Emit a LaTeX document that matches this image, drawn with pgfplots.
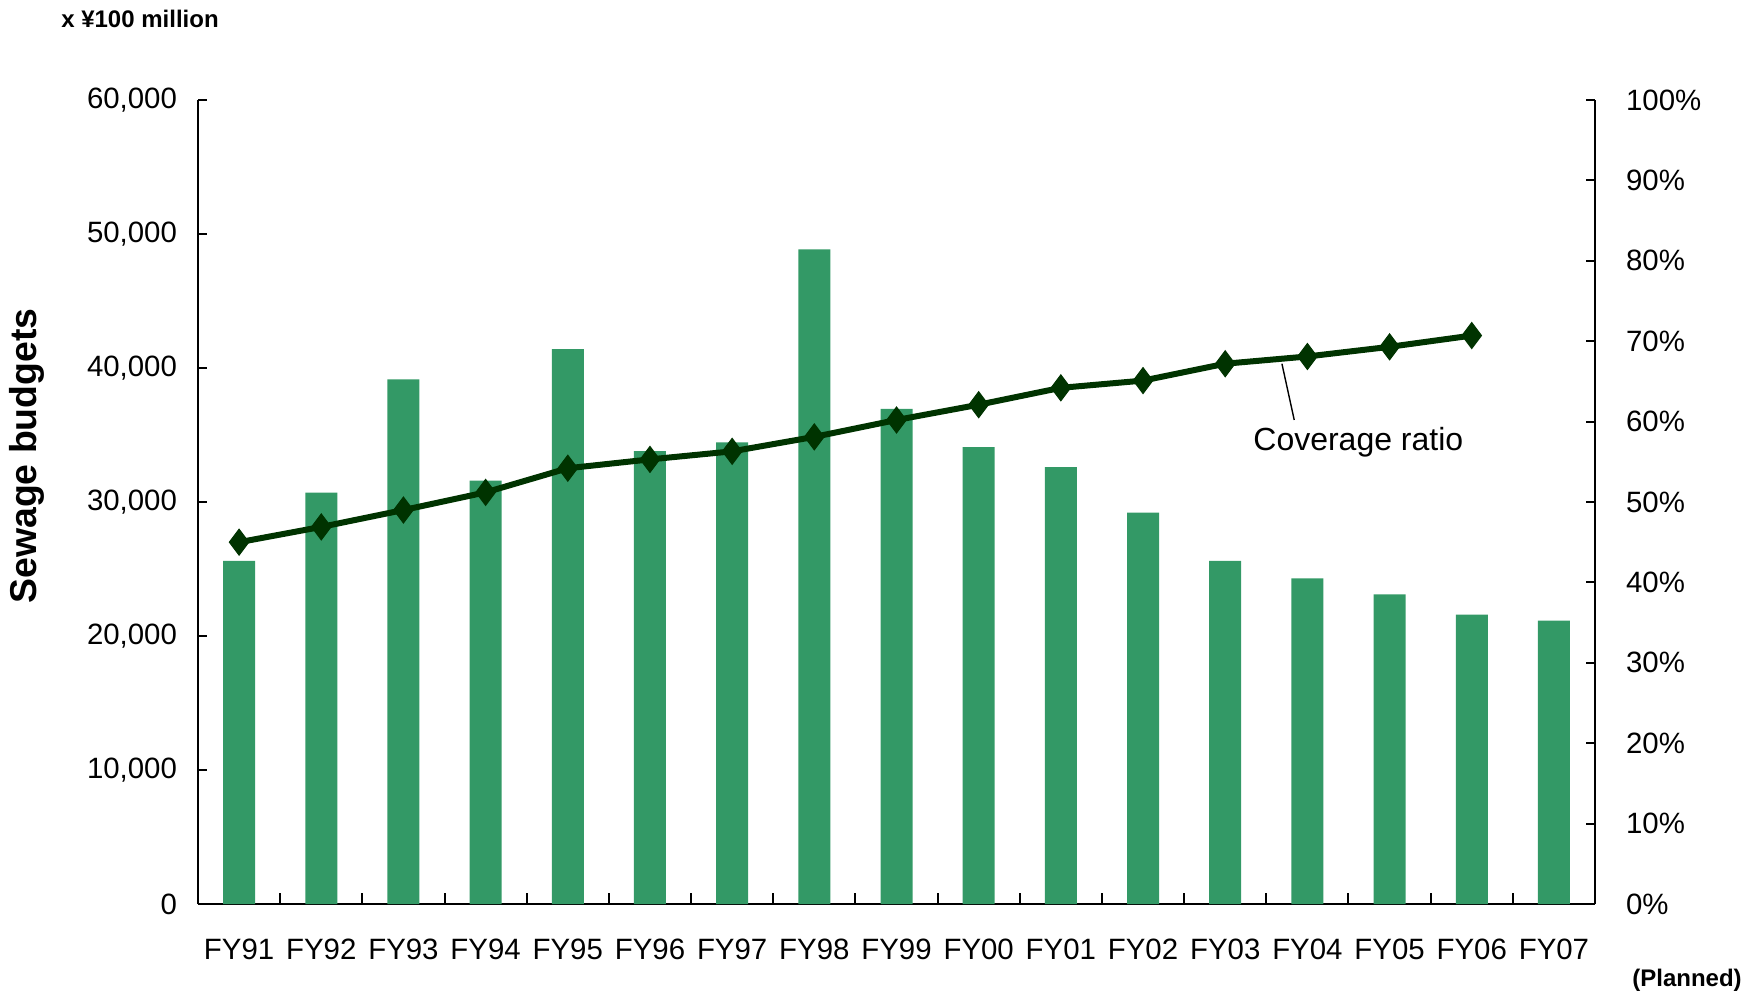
\documentclass[border=0pt]{standalone}
\usepackage{pgfplots}
\pgfplotsset{compat=1.18}
\usepackage{pgfplotstable}
\usepackage{fontspec}
\setmainfont{Liberation Sans}

\definecolor{barGreen}{HTML}{339966}
\definecolor{lineGreen}{HTML}{003300}

% Sewage budgets (x 100 million yen), FY91 .. FY07 (FY07 planned)
\pgfplotstableread{
idx budget
0  25600
1  30700
2  39150
3  31600
4  41400
5  33800
6  34450
7  48850
8  36950
9  34100
10 32600
11 29200
12 25600
13 24300
14 23100
15 21600
16 21150
}\budgets

% Sewerage coverage ratio (%), FY91 .. FY06
\pgfplotstableread{
idx ratio
0  45.0
1  46.9
2  49.0
3  51.2
4  54.2
5  55.3
6  56.3
7  58.1
8  60.2
9  62.1
10 64.2
11 65.1
12 67.2
13 68.1
14 69.3
15 70.7
}\coverage

\begin{document}
\begin{tikzpicture}[font=\fontsize{14.7}{17}\selectfont]
\useasboundingbox (-99pt,-44pt) rectangle (773pt,452pt);

\pgfplotsset{
  common/.style={
    scale only axis,
    width=698.5pt, height=402pt,
    at={(0,0)}, anchor=south west,
    xmin=-0.5, xmax=16.5,
    tick align=inside,
    major tick length=4.5pt,
    minor tick length=5.5pt,
    every tick/.style={black, line width=1pt},
    axis line style={black, line width=1pt},
    /pgf/number format/assume math mode=true,
    tick label style={font=\fontsize{14.7}{17}\selectfont},
  }
}

% Budgets: bars on the left axis
\begin{axis}[
  common,
  ymin=0, ymax=60000,
  axis x line*=bottom, axis y line*=left,
  xtick={0,...,16},
  xticklabels={FY91,FY92,FY93,FY94,FY95,FY96,FY97,FY98,FY99,FY00,FY01,FY02,FY03,FY04,FY05,FY06,FY07},
  major x tick style={draw=none},
  minor xtick={0.5,1.5,...,15.5},
  xticklabel style={yshift=-14pt},
  ytick={0,10000,...,60000},
  scaled y ticks=false,
  yticklabel style={/pgf/number format/1000 sep={,}, xshift=-7pt},
]
\addplot[ybar, bar width=16pt, fill=barGreen, draw=none] table[x=idx, y=budget] {\budgets};
\end{axis}

% Coverage ratio: line on the right axis
\begin{axis}[
  common,
  ymin=0, ymax=100,
  axis x line=none, axis y line*=right,
  ytick={0,10,...,100},
  yticklabel={\pgfmathprintnumber{\tick}\%},
  yticklabel style={xshift=12pt},
]
\draw[black, line width=0.7pt] (axis cs:12.69,67.2) -- (axis cs:12.84,60.2);
\addplot[lineGreen, line width=3pt, mark=diamond*, mark size=6.5pt,
  mark options={solid, fill=lineGreen, line width=0.5pt}]
  table[x=idx, y=ratio] {\coverage};
\node[font=\fontsize{16}{18}\selectfont] at (axis cs:13.62,57.4) {Coverage ratio};
\end{axis}

\node[font=\bfseries\fontsize{12}{14}\selectfont] at (-29pt,442.5pt) {x ¥100 million};
\node[rotate=90, font=\bfseries\fontsize{18.7}{21}\selectfont] at (-85.6pt,224pt) {Sewage budgets};
\node[font=\bfseries\fontsize{12}{14}\selectfont] at (744.5pt,-38pt) {(Planned)};
\end{tikzpicture}
\end{document}
